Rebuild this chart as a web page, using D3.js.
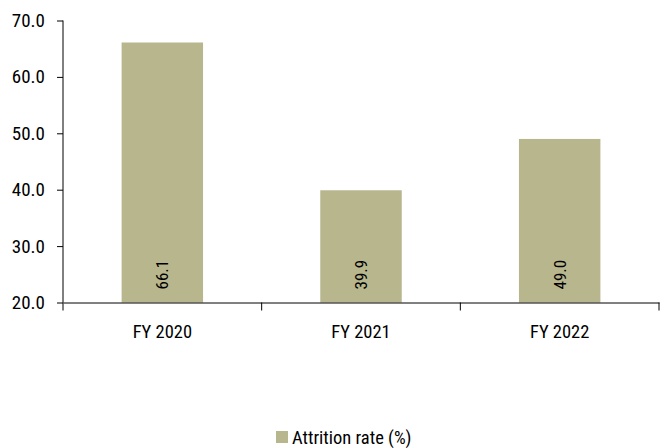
<!DOCTYPE html>
<html>
<head>
<meta charset="utf-8">
<script src="https://cdn.jsdelivr.net/npm/d3@7"></script>
<style>
  body { margin: 0; background: #fff; }
  svg text { font-family: "Liberation Sans Narrow", "Roboto Condensed", "Liberation Sans", sans-serif; font-stretch: condensed; fill: #000; }
</style>
</head>
<body>
<div id="chart"></div>
<script>
const categories = ["FY 2020", "FY 2021", "FY 2022"];
const attritionRate = [66.1, 39.9, 49.0];
const yTicks = [20, 30, 40, 50, 60, 70];
const seriesName = "Attrition rate (%)";

const W = 667, H = 448;
const margin = {top: 20.5, right: 8, bottom: 145.5, left: 63};
const width = W - margin.left - margin.right,
  height = H - margin.top - margin.bottom;
const barColor = "#b8b68d";

const svg = d3.select("#chart").append("svg")
  .attr("width", W)
  .attr("height", H);
const g = svg.append("g")
  .attr("transform", `translate(${margin.left}, ${margin.top})`);

const x = d3.scaleBand()
  .domain(categories)
  .range([0, width])
  .paddingInner(0.59)
  .paddingOuter(0.295);
const y = d3.scaleLinear()
  .domain([20, 70])
  .range([height, 0]);

// bars
g.selectAll("rect.bar")
  .data(attritionRate)
  .join("rect")
    .attr("class", "bar")
    .attr("x", (d, i) => x(categories[i]))
    .attr("y", d => y(d))
    .attr("width", x.bandwidth())
    .attr("height", d => y(20) - y(d))
    .attr("fill", barColor);

// value labels, rotated
g.selectAll("text.val")
  .data(attritionRate)
  .join("text")
    .attr("class", "val")
    .attr("transform", (d, i) => `translate(${x(categories[i]) + x.bandwidth() / 2 + 6}, ${y(20) - 13}) rotate(-90)`)
    .attr("font-size", 17)
    .text(d => d.toFixed(1));

// y axis
const yAxisG = g.append("g")
  .call(d3.axisLeft(y).tickValues(yTicks).tickFormat(d3.format(".1f")).tickSize(6).tickSizeOuter(0));
yAxisG.select(".domain").attr("stroke", "#000")
  .attr("d", `M0,0V${height + 8}`);
yAxisG.selectAll(".tick line").attr("stroke", "#000");
yAxisG.selectAll(".tick text")
  .attr("x", -18)
  .attr("font-size", 19)
  .attr("font-family", null);

// x axis
const xAxisG = g.append("g")
  .attr("transform", `translate(0, ${height})`)
  .call(d3.axisBottom(x).tickSize(0).tickSizeOuter(0));
xAxisG.select(".domain").attr("stroke", "#000");
xAxisG.selectAll(".tick text")
  .attr("dy", null)
  .attr("y", 35)
  .attr("font-size", 18.5)
  .attr("font-family", null);

// boundary ticks between categories
g.append("g")
  .attr("transform", `translate(0, ${height})`)
  .selectAll("line")
  .data(d3.range(1, categories.length + 1))
  .join("line")
    .attr("x1", i => i * width / categories.length)
    .attr("x2", i => i * width / categories.length)
    .attr("y1", 0)
    .attr("y2", 8)
    .attr("stroke", "#000");

// legend
const legend = svg.append("g")
  .attr("transform", `translate(276, 431)`);
legend.append("rect")
  .attr("width", 12)
  .attr("height", 12)
  .attr("fill", barColor);
legend.append("text")
  .attr("x", 16)
  .attr("y", 12.5)
  .attr("font-size", 18.5)
  .text(seriesName);
</script>
</body>
</html>
